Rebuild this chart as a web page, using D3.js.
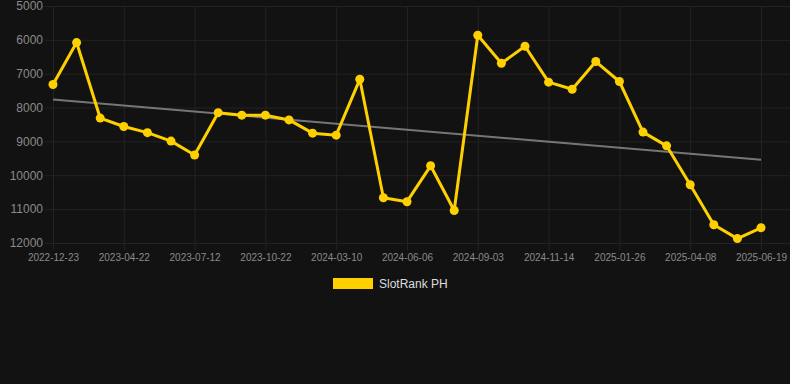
<!DOCTYPE html>
<html>
<head>
<meta charset="utf-8">
<script src="https://cdn.jsdelivr.net/npm/d3@7"></script>
<style>
  html, body { margin: 0; padding: 0; background: #121212; }
  svg { display: block; }
</style>
</head>
<body>
<svg id="chart"></svg>
<script>
// dates (every third one is shown on the axis)
const dates = [
  "2022-12-23", "2023-01-28", "2023-03-10", "2023-04-22", "2023-05-20", "2023-06-15",
  "2023-07-12", "2023-08-14", "2023-09-18", "2023-10-22", "2023-11-30", "2024-01-15",
  "2024-03-10", "2024-04-05", "2024-05-08", "2024-06-06", "2024-07-04", "2024-08-02",
  "2024-09-03", "2024-09-28", "2024-10-20", "2024-11-14", "2024-12-08", "2025-01-02",
  "2025-01-26", "2025-02-20", "2025-03-15", "2025-04-08", "2025-05-02", "2025-05-26",
  "2025-06-19"
];

const rank = [
  7320, 6080, 8310, 8560, 8740, 8990, 9400, 8150, 8225, 8225, 8365,
  8755, 8815, 7165, 10665, 10780, 9720, 11040, 5865, 6690, 6190,
  7250, 7460, 6640, 7230, 8725, 9130, 10280, 11460, 11870, 11550
];

// trend line ends (first and last date)
const trend = [7765, 9540];

const yTicks = [5000, 6000, 7000, 8000, 9000, 10000, 11000, 12000];
const seriesName = "SlotRank PH";

const width = 790;
const height = 384;

const svg = d3.select("#chart").attr("width", width).attr("height", height);

// x: one slot per date
const x = d3.scalePoint()
  .domain(d3.range(dates.length))
  .range([53, 761]);

// y: rank, low numbers on top
const y = d3.scaleLinear()
  .domain([5000, 12000])
  .range([6, 243]);

// grid lines
svg.append("g")
  .selectAll("line")
  .data(yTicks)
  .join("line")
  .attr("x1", 45)
  .attr("x2", width)
  .attr("y1", d => y(d) + 0.5)
  .attr("y2", d => y(d) + 0.5)
  .attr("stroke", "#232323");

const shown = d3.range(0, dates.length, 3);

svg.append("g")
  .selectAll("line")
  .data(shown)
  .join("line")
  .attr("x1", d => x(d) + 0.5)
  .attr("x2", d => x(d) + 0.5)
  .attr("y1", y(5000))
  .attr("y2", y(12000) + 7)
  .attr("stroke", "#232323");

// y axis labels
const yAxis = svg.append("g")
  .attr("transform", "translate(43,0)")
  .call(d3.axisLeft(y).tickValues(yTicks).tickSize(0).tickPadding(0).tickFormat(d3.format("d")));
yAxis.select(".domain").remove();
yAxis.selectAll("text")
  .attr("fill", "#8a8a8a")
  .attr("font-family", "Liberation Sans, Arial, sans-serif")
  .attr("font-size", 12);

// x axis labels
const xAxis = svg.append("g")
  .attr("transform", `translate(0,${y(12000) + 8})`)
  .call(d3.axisBottom(x).tickValues(shown).tickSize(0).tickPadding(3).tickFormat(i => dates[i]));
xAxis.select(".domain").remove();
xAxis.selectAll("text")
  .attr("fill", "#8a8a8a")
  .attr("font-family", "Liberation Sans, Arial, sans-serif")
  .attr("font-size", 10);

// trend
svg.append("line")
  .attr("x1", x(0))
  .attr("x2", x(dates.length - 1))
  .attr("y1", y(trend[0]))
  .attr("y2", y(trend[1]))
  .attr("stroke", "#888")
  .attr("stroke-opacity", 0.85)
  .attr("stroke-width", 2);

// series line
const line = d3.line()
  .x((_, i) => x(i))
  .y(d => y(d));

svg.append("path")
  .datum(rank)
  .attr("d", line)
  .attr("fill", "none")
  .attr("stroke", "#FFD000")
  .attr("stroke-width", 3)
  .attr("stroke-linejoin", "round");

svg.append("g")
  .selectAll("circle")
  .data(rank)
  .join("circle")
  .attr("cx", (_, i) => x(i))
  .attr("cy", d => y(d))
  .attr("r", 4.5)
  .attr("fill", "#FFD000");

// legend
const legend = svg.append("g").attr("transform", "translate(333,278)");
legend.append("rect")
  .attr("width", 40)
  .attr("height", 11)
  .attr("fill", "#FFD000");
legend.append("text")
  .attr("x", 46)
  .attr("y", 10)
  .attr("fill", "#ddd")
  .attr("font-family", "Liberation Sans, Arial, sans-serif")
  .attr("font-size", 12)
  .text(seriesName);
</script>
</body>
</html>
